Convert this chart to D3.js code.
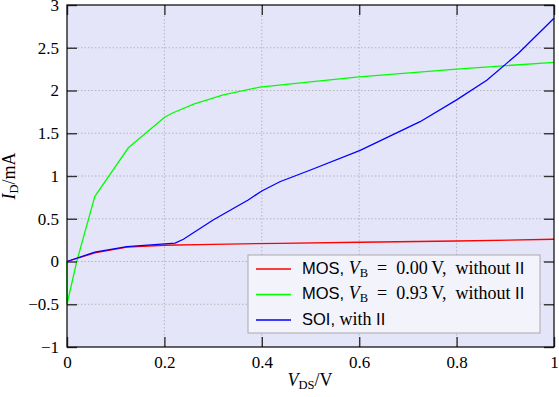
<!DOCTYPE html>
<html>
<head>
<meta charset="utf-8">
<script src="https://cdn.jsdelivr.net/npm/d3@7"></script>
<style>
  body { margin: 0; background: #fff; }
</style>
</head>
<body>
<div id="chart"></div>
<script>
// data
const mosVb0 = [[0, 0], [0.057, 0.10], [0.123, 0.167], [0.2, 0.19], [0.3, 0.2], [0.437, 0.213], [0.6, 0.225], [0.8, 0.24], [1, 0.26]];
const mosVb93 = [[0, 0], [0, -0.5], [0.02, 0.0], [0.057, 0.76], [0.126, 1.33], [0.201, 1.69], [0.218, 1.74], [0.26, 1.84], [0.321, 1.95], [0.396, 2.04], [0.5, 2.1], [0.6, 2.16], [0.8, 2.25], [1, 2.33]];
const soiII = [[0, 0], [0.057, 0.11], [0.123, 0.175], [0.222, 0.216], [0.239, 0.26], [0.3, 0.485], [0.372, 0.72], [0.4, 0.825], [0.437, 0.933], [0.5, 1.07], [0.602, 1.30], [0.725, 1.635], [0.8, 1.89], [0.862, 2.12], [0.927, 2.435], [1, 2.845]];
const xTicks = [0, 0.2, 0.4, 0.6, 0.8, 1];
const yTicks = [-1, -0.5, 0, 0.5, 1, 1.5, 2, 2.5, 3];

const series = [
  { key: "vb0", data: mosVb0, color: "#ff0000" },
  { key: "vb93", data: mosVb93, color: "#00ff00" },
  { key: "soi", data: soiII, color: "#0000ff" }
];

const margin = { top: 5, left: 67 };
const W = 559, H = 397;

const x = d3.scaleLinear().domain([0, 1]).range([0, 487]);
const y = d3.scaleLinear().domain([-1, 3]).range([342, 0]);

const svg = d3.select("#chart").append("svg")
  .attr("width", W)
  .attr("height", H);

const g = svg.append("g")
  .attr("transform", `translate(${margin.left},${margin.top})`);

// background
g.append("rect")
  .attr("width", x(1)).attr("height", y(-1))
  .attr("fill", "#e5e5fa");

// grid
g.append("g").selectAll("line")
  .data(xTicks.slice(1, -1))
  .enter().append("line")
  .attr("x1", d => x(d)).attr("x2", d => x(d))
  .attr("y1", 0).attr("y2", y(-1))
  .attr("stroke", "#aaa").attr("stroke-dasharray", "1.5,2").attr("stroke-width", 0.8);
g.append("g").selectAll("line")
  .data(yTicks.slice(1, -1))
  .enter().append("line")
  .attr("y1", d => y(d)).attr("y2", d => y(d))
  .attr("x1", 0).attr("x2", x(1))
  .attr("stroke", "#aaa").attr("stroke-dasharray", "1.5,2").attr("stroke-width", 0.8);

// lines
const line = d3.line().x(d => x(d[0])).y(d => y(d[1]));
g.selectAll(".series")
  .data(series)
  .enter().append("path")
  .attr("class", "series")
  .attr("d", d => line(d.data))
  .attr("fill", "none")
  .attr("stroke", d => d.color)
  .attr("stroke-width", 1.3);

// axes with inward ticks
const fmt = d => d < 0 ? "\u2212" + Math.abs(d) : String(d);
const xAxis = g.append("g")
  .attr("transform", `translate(0,${y(-1)})`)
  .call(d3.axisBottom(x).tickValues(xTicks).tickSizeInner(-10).tickSizeOuter(0).tickPadding(9).tickFormat(fmt));
const xTop = g.append("g")
  .call(d3.axisTop(x).tickValues(xTicks).tickSizeInner(-10).tickSizeOuter(0).tickFormat(""));
const yAxis = g.append("g")
  .call(d3.axisLeft(y).tickValues(yTicks).tickSizeInner(-10).tickSizeOuter(0).tickPadding(8).tickFormat(fmt));
const yRight = g.append("g")
  .attr("transform", `translate(${x(1)},0)`)
  .call(d3.axisRight(y).tickValues(yTicks).tickSizeInner(-10).tickSizeOuter(0).tickFormat(""));
[xAxis, xTop, yAxis, yRight].forEach(a => {
  a.select(".domain").remove();
  a.selectAll(".tick line").attr("stroke", "#333").attr("stroke-width", 1.4);
  a.attr("font-family", "Liberation Serif, serif").attr("font-size", 17);
  a.selectAll(".tick text").attr("fill", "#000");
});

// frame
g.append("rect")
  .attr("width", x(1)).attr("height", y(-1))
  .attr("fill", "none").attr("stroke", "#000").attr("stroke-width", 1.2);

// legend
const legend = g.append("g").attr("transform", "translate(181,250)");
legend.append("rect")
  .attr("width", 292).attr("height", 78)
  .attr("fill", "#f3f3fc").attr("stroke", "#aaa").attr("stroke-width", 1);

const legendRows = [
  { color: "#ff0000", lead: "MOS,", vb: "0.00", tail: "without" },
  { color: "#00ff00", lead: "MOS,", vb: "0.93", tail: "without" },
  { color: "#0000ff", lead: "SOI,", vb: null, tail: "with" }
];
const rows = legend.selectAll(".row")
  .data(legendRows)
  .enter().append("g")
  .attr("class", "row")
  .attr("transform", (d, i) => `translate(0,${14 + i * 25.5})`);
rows.append("line")
  .attr("x1", 8).attr("x2", 43)
  .attr("stroke", d => d.color).attr("stroke-width", 1.3);
const lt = rows.append("text")
  .attr("x", 54).attr("y", 4.5)
  .attr("font-family", "Liberation Serif, serif").attr("font-size", 18)
  .attr("xml:space", "preserve");
lt.append("tspan").attr("font-family", "Liberation Sans, sans-serif").attr("font-size", 16.5).text(d => d.lead + " ");
lt.filter(d => d.vb).each(function(d) {
  const t = d3.select(this);
  t.append("tspan").attr("font-style", "italic").text("V");
  t.append("tspan").attr("font-size", 12.5).attr("dy", 3).text("B");
  t.append("tspan").attr("dy", -3).text(`  =  ${d.vb}\u2009V,  `);
});
lt.append("tspan").text(d => d.tail + " ");
lt.append("tspan").attr("font-family", "Liberation Sans, sans-serif").attr("font-size", 16.5).text("II");

// axis labels
const xl = svg.append("text")
  .attr("x", 310).attr("y", 386)
  .attr("text-anchor", "middle")
  .attr("font-family", "Liberation Serif, serif").attr("font-size", 18);
xl.append("tspan").attr("font-style", "italic").text("V");
xl.append("tspan").attr("font-size", 12.5).attr("dy", 3).text("DS");
xl.append("tspan").attr("dy", -3).text("/V");

const yl = svg.append("text")
  .attr("transform", `translate(15,${margin.top + y(1)}) rotate(-90)`)
  .attr("text-anchor", "middle")
  .attr("font-family", "Liberation Serif, serif").attr("font-size", 18);
yl.append("tspan").attr("font-style", "italic").text("I");
yl.append("tspan").attr("font-size", 12.5).attr("dy", 3).text("D");
yl.append("tspan").attr("dy", -3).text("/mA");
</script>
</body>
</html>
